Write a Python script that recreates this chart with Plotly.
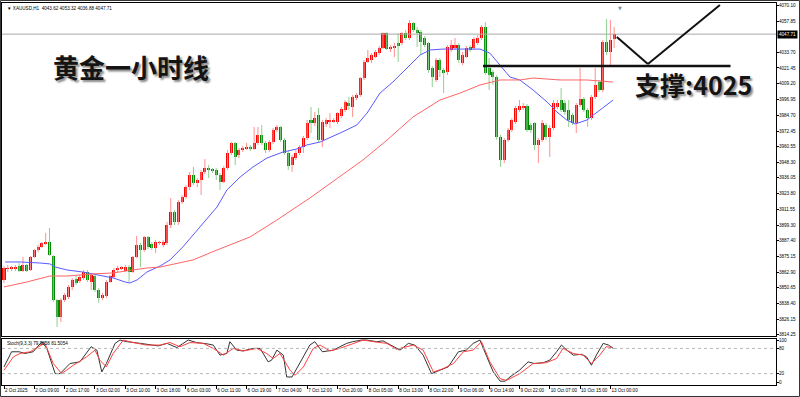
import plotly.graph_objects as go

# ---------------- data ----------------
opens = [3856.7, 3865.3, 3866.0, 3865.3, 3867.6, 3863.7, 3868.4, 3864.5, 3874.6, 3880.0,
         3882.4, 3884.7, 3886.2, 3875.4, 3841.1, 3828.0, 3841.1, 3843.5, 3851.3, 3857.5,
         3855.9, 3858.3, 3862.9, 3855.2, 3859.8, 3848.9, 3842.7, 3844.3, 3855.2, 3859.1,
         3864.5, 3866.0, 3863.7, 3866.8, 3862.9, 3874.6, 3883.9, 3880.0, 3890.1, 3884.7,
         3881.6, 3885.5, 3883.9, 3885.5, 3899.4, 3909.5, 3901.8, 3917.3, 3921.2, 3928.9,
         3938.3, 3932.1, 3934.4, 3940.6, 3942.9, 3942.2, 3942.2, 3938.3, 3932.8, 3943.7,
         3955.4, 3963.1, 3953.8, 3957.7, 3958.5, 3960.0, 3958.5, 3963.1, 3969.3, 3963.1,
         3957.7, 3963.9, 3973.2, 3975.6, 3965.5, 3955.4, 3946.0, 3951.5, 3955.4, 3960.0,
         3967.0, 3981.0, 3978.7, 3984.9, 3965.5, 3977.9, 3980.2, 3980.2, 3979.4, 3984.1,
         3988.8, 3994.2, 3991.1, 3998.1, 4000.4, 4013.6, 4026.1, 4027.6, 4029.9, 4033.0,
         4036.9, 4048.6, 4036.1, 4036.9, 4040.8, 4040.8, 4048.6, 4044.7, 4056.3, 4050.9,
         4049.3, 4044.7, 4040.8, 4021.4, 4012.1, 4027.6, 4019.8, 4018.3, 4035.4, 4036.9,
         4039.2, 4025.3, 4029.9, 4037.7, 4036.9, 4040.8, 4044.7, 4053.2, 4021.4, 4018.3,
         4014.4, 3967.8, 3949.9, 3965.5, 3973.2, 3979.4, 3988.8, 3990.3, 3991.9, 3977.1,
         3978.7, 3961.6, 3965.5, 3977.1, 3967.8, 3974.8, 3991.1, 3996.5, 3994.2, 3988.8,
         3984.9, 3978.7, 3992.6, 3997.3, 3988.8, 3982.5, 3998.9, 4010.5, 4004.3, 4041.6,
         4033.8, 4043.62]

closes = [3866.0, 3866.0, 3866.2, 3866.8, 3863.7, 3868.4, 3863.7, 3874.6, 3880.0, 3882.4,
          3885.5, 3886.2, 3876.1, 3841.1, 3828.0, 3841.1, 3845.1, 3851.3, 3856.7, 3854.4,
          3859.1, 3862.9, 3856.7, 3860.6, 3848.9, 3842.7, 3845.1, 3855.2, 3859.8, 3864.5,
          3866.0, 3866.3, 3866.8, 3862.9, 3874.6, 3883.9, 3880.0, 3890.1, 3882.4, 3881.6,
          3886.2, 3885.7, 3886.2, 3899.4, 3909.5, 3901.8, 3917.3, 3921.2, 3928.9, 3938.3,
          3932.1, 3934.4, 3940.6, 3943.7, 3942.7, 3942.0, 3938.3, 3932.8, 3943.7, 3955.4,
          3963.1, 3952.3, 3957.7, 3959.2, 3960.0, 3958.5, 3963.1, 3969.3, 3963.1, 3957.7,
          3963.9, 3973.2, 3975.6, 3965.5, 3955.4, 3945.3, 3952.3, 3955.4, 3960.0, 3967.0,
          3978.7, 3978.7, 3982.5, 3965.5, 3979.4, 3981.0, 3980.4, 3981.0, 3986.4, 3989.5,
          3995.0, 3991.9, 3998.9, 4000.4, 4013.6, 4026.1, 4029.2, 4031.5, 4033.8, 4036.9,
          4048.6, 4036.1, 4037.7, 4038.5, 4038.5, 4048.6, 4044.7, 4056.3, 4050.9, 4048.6,
          4041.6, 4039.2, 4019.8, 4014.4, 4027.6, 4019.8, 4017.5, 4037.7, 4039.2, 4039.2,
          4027.6, 4031.5, 4036.9, 4035.4, 4043.9, 4044.7, 4053.2, 4017.5, 4015.9, 4014.4,
          3967.8, 3949.9, 3965.5, 3973.2, 3981.0, 3990.3, 3991.9, 3991.9, 3973.2, 3973.2,
          3961.6, 3965.5, 3978.7, 3967.8, 3974.8, 3994.2, 3994.2, 3988.8, 3987.2, 3981.0,
          3978.7, 3992.6, 3997.3, 3988.8, 3982.5, 3998.9, 4008.2, 4004.3, 4041.6, 4033.8,
          4043.1, 4047.71]

highs = [3867.6, 3868.4, 3867.6, 3868.4, 3869.9, 3874.6, 3869.2, 3875.4, 3880.8, 3883.9,
         3886.2, 3893.2, 3897.1, 3876.1, 3841.9, 3842.7, 3846.6, 3852.8, 3858.3, 3859.8,
         3860.6, 3864.5, 3864.5, 3862.2, 3860.6, 3850.5, 3846.6, 3856.7, 3860.6, 3866.0,
         3867.6, 3867.6, 3868.4, 3868.4, 3875.4, 3890.9, 3885.5, 3890.9, 3890.9, 3886.2,
         3887.8, 3887.0, 3887.8, 3901.8, 3920.4, 3911.1, 3918.8, 3922.7, 3930.5, 3940.6,
         3944.5, 3935.9, 3942.2, 3950.7, 3946.0, 3943.7, 3943.7, 3939.8, 3945.3, 3957.7,
         3963.9, 3963.9, 3959.2, 3960.8, 3963.1, 3961.6, 3975.6, 3975.6, 3977.1, 3964.7,
         3965.5, 3974.8, 3977.1, 3976.3, 3967.0, 3956.9, 3953.8, 3957.7, 3961.6, 3968.6,
         3981.0, 3991.1, 3987.2, 3990.3, 3981.0, 3982.5, 3986.4, 3982.5, 3987.2, 3991.1,
         3996.5, 3998.9, 4000.4, 4001.9, 4014.4, 4027.6, 4035.4, 4033.0, 4035.4, 4038.5,
         4049.0, 4049.3, 4039.2, 4040.8, 4048.6, 4049.3, 4050.9, 4058.7, 4057.1, 4053.2,
         4050.9, 4046.2, 4041.6, 4022.9, 4029.2, 4029.2, 4021.4, 4039.2, 4043.1, 4044.7,
         4040.8, 4033.8, 4038.5, 4039.2, 4045.5, 4047.0, 4054.8, 4057.1, 4029.2, 4019.8,
         4015.9, 3969.3, 3967.0, 3974.8, 3982.5, 3991.9, 3996.5, 3994.2, 3993.4, 3978.7,
         3979.4, 3967.0, 3981.0, 3978.7, 3977.1, 3996.5, 3996.5, 4005.8, 3996.5, 3996.5,
         3986.4, 3994.2, 4021.4, 3998.9, 3990.3, 4000.4, 4021.4, 4012.1, 4043.1, 4059.4,
         4058.7, 4053.32]

lows = [3854.4, 3862.9, 3863.7, 3863.7, 3862.9, 3862.9, 3862.9, 3863.7, 3873.8, 3878.5,
        3881.6, 3883.9, 3875.4, 3839.6, 3820.2, 3824.1, 3839.6, 3841.9, 3848.9, 3852.8,
        3854.4, 3856.7, 3855.2, 3848.9, 3847.4, 3838.9, 3841.1, 3842.7, 3854.4, 3857.5,
        3862.9, 3864.5, 3862.9, 3855.2, 3862.2, 3873.8, 3866.8, 3878.5, 3880.8, 3880.0,
        3877.7, 3883.9, 3882.4, 3883.9, 3897.1, 3899.4, 3899.4, 3915.8, 3919.6, 3926.6,
        3930.5, 3928.9, 3922.7, 3939.0, 3935.9, 3939.8, 3934.4, 3926.6, 3932.1, 3942.2,
        3953.8, 3946.0, 3951.5, 3956.1, 3957.7, 3956.9, 3957.7, 3961.6, 3961.6, 3955.4,
        3956.1, 3962.4, 3971.7, 3963.9, 3953.8, 3942.2, 3940.6, 3949.9, 3953.8, 3955.4,
        3965.5, 3970.9, 3976.3, 3963.9, 3960.0, 3975.6, 3974.8, 3978.7, 3977.9, 3982.5,
        3987.2, 3988.8, 3983.3, 3996.5, 3998.9, 4012.1, 4025.3, 4025.3, 4029.2, 4031.5,
        4036.1, 4035.4, 4033.8, 4029.9, 4026.1, 4039.2, 4043.1, 4043.1, 4049.3, 4037.7,
        4031.5, 4037.7, 4017.5, 4006.6, 4010.5, 4014.4, 4001.9, 4015.9, 4033.8, 4035.4,
        4025.3, 4023.7, 4029.2, 4033.8, 4035.4, 4039.2, 4043.1, 4015.9, 4004.3, 4008.2,
        3965.5, 3944.5, 3947.6, 3963.9, 3971.7, 3977.9, 3987.2, 3988.8, 3971.7, 3970.9,
        3957.7, 3947.6, 3963.9, 3965.5, 3952.3, 3973.2, 3989.5, 3987.2, 3984.9, 3975.6,
        3977.1, 3970.9, 3991.1, 3987.2, 3975.6, 3981.0, 3997.3, 4002.7, 4002.7, 4031.5,
        4023.7, 4036.88]

bars = list(range(len(closes)))  # hourly bar number

time_ticks = [0, 8, 16, 24, 32, 40, 48, 56, 64, 72, 80, 88, 96, 104, 112, 120, 128, 136, 144, 152, 160]
time_labels = ["2 Oct 2025", "2 Oct 09:00", "2 Oct 17:00", "3 Oct 02:00", "3 Oct 10:00", "3 Oct 18:00",
               "6 Oct 03:00", "6 Oct 11:00", "6 Oct 19:00", "7 Oct 04:00", "7 Oct 12:00", "7 Oct 20:00",
               "8 Oct 05:00", "8 Oct 13:00", "8 Oct 22:00", "9 Oct 06:00", "9 Oct 14:00", "9 Oct 22:00",
               "10 Oct 07:00", "10 Oct 15:00", "13 Oct 00:00"]

price_ticks = [4070.10, 4057.85, 4033.70, 4021.45, 4009.20, 3996.95, 3984.70, 3972.45, 3960.55,
               3948.30, 3936.05, 3923.80, 3911.55, 3899.30, 3887.40, 3875.15, 3862.90, 3850.65,
               3838.40, 3826.15, 3814.25]

# moving averages (bar number, price)
ma_fast_x = [0.3, 4.2, 9.5, 12.1, 13.5, 16.6, 20.8, 25.3, 28.8, 31.9, 33.2, 35.1, 37.7, 41.2, 43.8,
             47.2, 51.7, 56.2, 58.8, 62.3, 65.7, 69.4, 73.6, 77.3, 79.9, 83.4, 88.7, 93.1, 95.8,
             99.2, 102.6, 106.3, 109.8, 112.4, 115.8, 120.3, 125.6, 128.2, 130.9, 133.5, 136.1,
             139.6, 143.3, 145.9, 148.5, 150.7, 153.8, 157.3, 160.7]
ma_fast_y = [3870.7, 3870.7, 3869.9, 3869.2, 3866.8, 3864.5, 3862.9, 3860.6, 3858.3, 3855.2, 3854.4,
             3856.7, 3862.9, 3867.6, 3872.3, 3882.4, 3897.9, 3913.4, 3926.6, 3936.7, 3944.5, 3951.5,
             3956.1, 3958.5, 3961.6, 3963.9, 3970.9, 3977.1, 3986.4, 4001.9, 4010.5, 4021.4, 4031.5,
             4035.4, 4036.1, 4036.1, 4036.1, 4033.0, 4023.7, 4014.4, 4012.1, 4004.3, 3995.0, 3987.2,
             3981.0, 3977.9, 3981.0, 3988.8, 3996.5]
ma_slow_x = [0, 6.1, 12.1, 16.6, 23.5, 28.8, 34.0, 37.7, 41.2, 49.9, 56.2, 64.9, 72.0, 77.3, 80.7,
             94.7, 101.1, 107.9, 115.0, 120.3, 125.6, 130.9, 136.1, 139.6, 146.7, 153.8, 160.7]
ma_slow_y = [3851.3, 3855.2, 3859.8, 3859.8, 3861.4, 3862.2, 3864.5, 3866.0, 3866.8, 3872.3, 3880.0,
             3890.1, 3903.3, 3913.4, 3920.4, 3949.9, 3965.5, 3983.3, 3996.5, 4001.9, 4008.2, 4012.1,
             4012.1, 4013.6, 4012.1, 4012.1, 4010.5]

# stochastic (9,3,3): main and signal lines (bar number, value)
stoch_k_x = [0, 2, 4, 5.5, 7.7, 10, 11.3, 13.5, 14.8, 17.4, 20, 23, 24.5, 25.8, 27, 29.3, 30.6, 32.4,
             36, 38.5, 40.7, 43, 45.6, 48.6, 50.8, 53.5, 55.2, 57, 58.8, 59.6, 61.4, 63, 65.8, 67.6,
             69.7, 70.6, 72, 73.7, 74.6, 76, 78, 80.7, 82, 84, 86.9, 90.4, 92, 94.4, 95.7, 98.3, 100,
             103.6, 104.5, 106.7, 108.4, 110.6, 112.8, 115, 117.2, 119.9, 122, 123.8, 125.6, 127.4,
             129.1, 130.9, 132.2, 133.5, 136, 138.3, 140, 142.3, 144, 145.8, 147.1, 148.5, 150.2,
             152.4, 153.7, 155, 156.3, 158.1, 159.5, 160.8]
stoch_k = [36, 72, 72, 68, 72, 96, 80, 20, 20, 44, 48, 84, 76, 24, 44, 92, 100, 96,
           92, 88, 86, 92, 82, 100, 94, 91, 88, 64, 68, 96, 76, 74, 80, 80,
           48, 52, 76, 64, 12, 12, 44, 88, 96, 72, 76, 92, 96, 100, 100, 96, 98,
           80, 76, 92, 88, 64, 20, 28, 36, 72, 76, 92, 100, 60,
           24, 2, 2, 12, 28, 48, 44, 46, 52, 72, 88, 76, 64,
           66, 60, 40, 64, 92, 88, 80]
stoch_d_x = [0, 2.5, 4.2, 6.9, 9.9, 10.8, 13, 15.2, 18.3, 21.8, 24, 25.3, 27, 28.8, 31.5, 34.1, 37.6,
             41.2, 43.8, 46.4, 49.1, 52.6, 55.2, 57.9, 60.5, 63.2, 66.7, 69.3, 71, 72.8, 75.5, 76.8,
             79, 81.6, 83.4, 86, 88.6, 92.2, 94.8, 97.5, 101, 103.6, 108, 110.6, 113.3, 115.9,
             118.6, 121.2, 123.8, 126, 128.2, 130.9, 132.6, 136.1, 139.6, 143.1, 145.8, 147.5,
             150.2, 152.8, 155, 157.2, 158.9, 160.6]
stoch_d = [28, 60, 68, 72, 88, 92, 44, 20, 40, 60, 76, 52, 36, 68, 100, 94, 88,
           88, 94, 84, 94, 92, 80, 64, 80, 74, 80, 68, 56, 68, 28, 16,
           36, 80, 88, 74, 80, 92, 100, 96, 92, 78, 88, 76, 24, 32,
           44, 72, 76, 96, 48, 8, 4, 20, 44, 46, 56, 80,
           68, 64, 44, 64, 84, 82]

last_price = 4047.71
support_drawn = 4023.0

# ---------------- styling ----------------
UP_BODY, UP_WICK = "#ff0000", "#ff8f8f"
DN_BODY, DN_WICK = "#008a00", "#8fd08f"
SMALL = dict(family="Liberation Sans", size=4.6, color="black")

up = [c >= o for o, c in zip(opens, closes)]

def wick_xy(flag):
    xs, ys = [], []
    for i, u in enumerate(up):
        if u == flag:
            xs += [bars[i], bars[i], None]
            ys += [lows[i], highs[i], None]
    return xs, ys

fig = go.Figure()
for flag, col in ((True, UP_WICK), (False, DN_WICK)):
    wx, wy = wick_xy(flag)
    fig.add_trace(go.Scatter(x=wx, y=wy, mode="lines", line=dict(color=col, width=1),
                             hoverinfo="skip", xaxis="x", yaxis="y"))

fig.add_trace(go.Bar(
    x=bars,
    y=[max(abs(c - o), 0.6) for o, c in zip(opens, closes)],
    base=[min(o, c) for o, c in zip(opens, closes)],
    marker=dict(color=[UP_BODY if u else DN_BODY for u in up], line=dict(width=0)),
    width=0.8, xaxis="x", yaxis="y"))

fig.add_trace(go.Scatter(x=ma_fast_x, y=ma_fast_y, mode="lines", line=dict(color="#5a5aff", width=1),
                         xaxis="x", yaxis="y"))
fig.add_trace(go.Scatter(x=ma_slow_x, y=ma_slow_y, mode="lines", line=dict(color="#ff6464", width=1),
                         xaxis="x", yaxis="y"))
fig.add_trace(go.Scatter(x=stoch_k_x, y=stoch_k, mode="lines", line=dict(color="#333333", width=1),
                         xaxis="x2", yaxis="y2"))
fig.add_trace(go.Scatter(x=stoch_d_x, y=stoch_d, mode="lines", line=dict(color="#ff4040", width=1),
                         xaxis="x2", yaxis="y2"))

XR = [-0.53, 203.7]
axis_common = dict(showgrid=False, zeroline=False, showline=True, linecolor="black",
                   linewidth=1, mirror=True, automargin=False)
fig.update_layout(
    width=800, height=397,
    margin=dict(l=2, r=24, t=3, b=12, autoexpand=False),
    paper_bgcolor="white", plot_bgcolor="white",
    showlegend=False, bargap=0, barmode="overlay",
    xaxis=dict(domain=[0, 1], range=XR, anchor="y", showticklabels=False, ticks="", **axis_common),
    xaxis2=dict(domain=[0, 1], range=XR, anchor="y2", matches="x",
                tickvals=time_ticks, ticktext=time_labels, ticks="outside", ticklen=3,
                tickcolor="black", tickfont=SMALL, ticklabelposition="outside right",
                tickangle=0, **axis_common),
    yaxis=dict(domain=[0.1283, 1], range=[3813.2, 4071.9], anchor="x", side="right",
               tickvals=price_ticks, ticktext=[f"{v:.2f}" for v in price_ticks],
               ticks="outside", ticklen=2, tickcolor="black", tickfont=SMALL,
               ticklabelstandoff=-1, **axis_common),
    yaxis2=dict(domain=[0, 0.1217], range=[-7.1, 103.6], anchor="x2", side="right",
                tickvals=[0, 20, 80, 100], ticktext=["0", "20", "80", "100"],
                ticks="outside", ticklen=2, tickcolor="black", tickfont=SMALL,
                ticklabelstandoff=-1, **axis_common),
)

shapes = [
    dict(type="line", xref="paper", yref="y", x0=0, x1=1, y0=last_price, y1=last_price,
         line=dict(color="#a8a8a8", width=1)),
    dict(type="line", xref="paper", yref="y2", x0=0, x1=1, y0=80, y1=80,
         line=dict(color="#b8b8b8", width=1, dash="dot")),
    dict(type="line", xref="paper", yref="y2", x0=0, x1=1, y0=20, y1=20,
         line=dict(color="#b8b8b8", width=1, dash="dot")),
    # hand-drawn support line and V arrow
    dict(type="line", xref="x", yref="y", x0=126.4, x1=191.7, y0=support_drawn, y1=support_drawn,
         line=dict(color="#111111", width=2.5)),
    dict(type="line", xref="x", yref="y", x0=161.7, y0=4045.5, x1=169.9, y1=4024.5,
         line=dict(color="#111111", width=2)),
    dict(type="line", xref="x", yref="y", x0=169.9, y0=4024.5, x1=188.9, y1=4070.3,
         line=dict(color="#111111", width=2)),
    # outer window frame
    dict(type="rect", xref="paper", yref="paper", x0=-0.0019, x1=1.0304, y0=-0.0301, y1=1.0065,
         line=dict(color="#333333", width=1)),
]
fig.update_layout(shapes=shapes)

annotations = [
    dict(text="▼ XAUUSD,H1  4043.62 4053.32 4036.88 4047.71", xref="paper", yref="paper",
         x=0.004, y=0.998, xanchor="left", yanchor="top", showarrow=False, font=SMALL),
    dict(text="Stoch(9,3,3) 79.9858 81.5054", xref="paper", yref="y2 domain",
         x=0.004, y=1.0, xanchor="left", yanchor="top", showarrow=False, font=SMALL),
    dict(text=f"{last_price:.2f}", xref="paper", yref="y", x=1, xshift=1, y=last_price,
         xanchor="left", yanchor="middle", showarrow=False, bgcolor="black", borderpad=1,
         font=dict(family="Liberation Sans", size=4.6, color="white")),
    dict(text="<b>黄金一小时线</b>", xref="x", yref="y", x=33.5, y=4022.9, showarrow=False,
         xanchor="center", yanchor="middle",
         font=dict(family="Noto Sans CJK SC", size=26, color="#141414",
                   shadow="2px 2px 2px #8a8a8a")),
    dict(text="<b>支撑:4025</b>", xref="x", yref="y", x=182, y=4009.0, showarrow=False,
         xanchor="center", yanchor="middle",
         font=dict(family="Noto Sans CJK SC", size=25, color="#141414",
                   shadow="2px 2px 2px #8a8a8a")),
    dict(text="▼", xref="x", yref="paper", x=162.6, y=1.0, yanchor="top", showarrow=False,
         font=dict(family="DejaVu Sans", size=5, color="#7f8fa6")),
]
fig.update_layout(annotations=annotations)

# remove the browser's default 8px page margin so the 800x397 figure fills the window
fig.write_html("out.html",
               config={"displayModeBar": False},
               post_script="document.body.style.margin='0';document.body.style.overflow='hidden';")
